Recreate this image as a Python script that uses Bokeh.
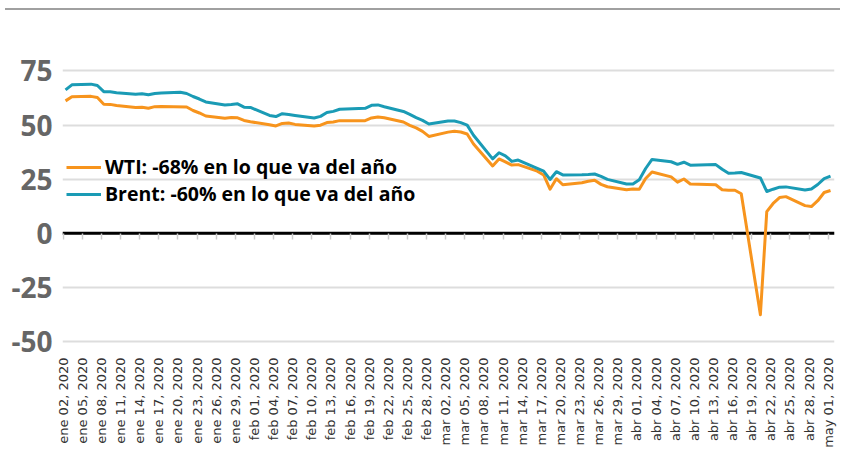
import math
import pandas as pd
from bokeh.plotting import figure
from bokeh.models import (FixedTicker, DatetimeAxis, Span, Range1d,
                          CustomJSTickFormatter, Div)
from bokeh.layouts import column
from bokeh.embed import file_html
from bokeh.resources import INLINE

# ---------------- data ----------------
wti_dates = [
    "2020-01-02", "2020-01-03", "2020-01-06", "2020-01-07", "2020-01-08", "2020-01-09", "2020-01-10",
    "2020-01-13", "2020-01-14", "2020-01-15", "2020-01-16", "2020-01-17", "2020-01-21", "2020-01-22",
    "2020-01-23", "2020-01-24", "2020-01-27", "2020-01-28", "2020-01-29", "2020-01-30", "2020-01-31",
    "2020-02-03", "2020-02-04", "2020-02-05", "2020-02-06", "2020-02-07", "2020-02-10", "2020-02-11",
    "2020-02-12", "2020-02-13", "2020-02-14", "2020-02-18", "2020-02-19", "2020-02-20", "2020-02-21",
    "2020-02-24", "2020-02-25", "2020-02-26", "2020-02-27", "2020-02-28", "2020-03-02", "2020-03-03",
    "2020-03-04", "2020-03-05", "2020-03-06", "2020-03-09", "2020-03-10", "2020-03-11", "2020-03-12",
    "2020-03-13", "2020-03-16", "2020-03-17", "2020-03-18", "2020-03-19", "2020-03-20", "2020-03-23",
    "2020-03-24", "2020-03-25", "2020-03-26", "2020-03-27", "2020-03-30", "2020-03-31", "2020-04-01",
    "2020-04-02", "2020-04-03", "2020-04-06", "2020-04-07", "2020-04-08", "2020-04-09", "2020-04-13",
    "2020-04-14", "2020-04-15", "2020-04-16", "2020-04-17", "2020-04-20", "2020-04-21", "2020-04-22",
    "2020-04-23", "2020-04-24", "2020-04-27", "2020-04-28", "2020-04-29", "2020-04-30", "2020-05-01",
]
wti_values = [
    61.18, 63.05, 63.27, 62.70, 59.61, 59.56, 59.04,
    58.08, 58.23, 57.81, 58.52, 58.54, 58.34, 56.74,
    55.59, 54.19, 53.14, 53.48, 53.33, 52.14, 51.56,
    50.11, 49.61, 50.75, 50.95, 50.32, 49.57, 49.94,
    51.17, 51.42, 52.05, 52.05, 53.29, 53.78, 53.38,
    51.43, 49.90, 48.73, 47.09, 44.76, 46.75, 47.18,
    46.78, 45.90, 41.28, 31.13, 34.36, 32.98, 31.50,
    31.73, 28.70, 26.95, 20.37, 25.22, 22.43, 23.36,
    24.01, 24.49, 22.60, 21.51, 20.09, 20.48, 20.31,
    25.32, 28.34, 26.08, 23.63, 25.09, 22.76, 22.41,
    20.11, 19.87, 19.87, 18.27, -37.63, 10.01, 13.78,
    16.50, 16.94, 12.78, 12.34, 15.06, 18.84, 19.78,
]

brent_dates = [
    "2020-01-02", "2020-01-03", "2020-01-06", "2020-01-07", "2020-01-08", "2020-01-09", "2020-01-10",
    "2020-01-13", "2020-01-14", "2020-01-15", "2020-01-16", "2020-01-17", "2020-01-20", "2020-01-21",
    "2020-01-22", "2020-01-23", "2020-01-24", "2020-01-27", "2020-01-28", "2020-01-29", "2020-01-30",
    "2020-01-31", "2020-02-03", "2020-02-04", "2020-02-05", "2020-02-06", "2020-02-07", "2020-02-10",
    "2020-02-11", "2020-02-12", "2020-02-13", "2020-02-14", "2020-02-17", "2020-02-18", "2020-02-19",
    "2020-02-20", "2020-02-21", "2020-02-24", "2020-02-25", "2020-02-26", "2020-02-27", "2020-02-28",
    "2020-03-02", "2020-03-03", "2020-03-04", "2020-03-05", "2020-03-06", "2020-03-09", "2020-03-10",
    "2020-03-11", "2020-03-12", "2020-03-13", "2020-03-16", "2020-03-17", "2020-03-18", "2020-03-19",
    "2020-03-20", "2020-03-23", "2020-03-24", "2020-03-25", "2020-03-26", "2020-03-27", "2020-03-30",
    "2020-03-31", "2020-04-01", "2020-04-02", "2020-04-03", "2020-04-06", "2020-04-07", "2020-04-08",
    "2020-04-09", "2020-04-13", "2020-04-14", "2020-04-15", "2020-04-16", "2020-04-17", "2020-04-20",
    "2020-04-21", "2020-04-22", "2020-04-23", "2020-04-24", "2020-04-27", "2020-04-28", "2020-04-29",
    "2020-04-30", "2020-05-01",
]
brent_values = [
    66.25, 68.60, 68.91, 68.27, 65.44, 65.37, 64.98,
    64.20, 64.49, 64.00, 64.62, 64.85, 65.20, 64.59,
    63.21, 62.04, 60.69, 59.32, 59.51, 59.81, 58.29,
    58.16, 54.45, 53.96, 55.28, 54.93, 54.47, 53.27,
    54.01, 55.79, 56.34, 57.32, 57.67, 57.75, 59.12,
    59.31, 58.50, 56.30, 54.95, 53.43, 52.18, 50.52,
    51.90, 51.86, 51.13, 49.99, 45.27, 34.36, 37.22,
    35.79, 33.22, 33.85, 30.05, 28.73, 24.88, 28.47,
    26.98, 27.03, 27.15, 27.39, 26.34, 24.93, 22.76,
    22.74, 24.74, 29.94, 34.11, 33.05, 31.87, 32.84,
    31.48, 31.74, 29.60, 27.69, 27.82, 28.08, 25.57,
    19.33, 20.37, 21.33, 21.44, 19.99, 20.46, 22.54,
    25.27, 26.44,
]

wti_label = "WTI: -68% en lo que va del año"
brent_label = "Brent: -60% en lo que va del año"

y_ticks = [-50, -25, 0, 25, 50, 75]
y_tick_labels = ["-50", "-25", "0", "25", "50", "75"]
month_abbr = {1: "ene", 2: "feb", 3: "mar", 4: "abr", 5: "may"}
tick_dates = pd.date_range("2020-01-02", "2020-05-01", freq="3D")
tick_labels = [f"{month_abbr[d.month]} {d.day:02d}, {d.year}" for d in tick_dates]

# ---------------- helpers ----------------
DAY_MS = 86400000.0
tick_ms = [float(int(d.timestamp() * 1000)) for d in tick_dates]
obs_shift = pd.Timedelta(hours=9)  # daily settlement timestamp offset
wti_x = pd.to_datetime(wti_dates) + obs_shift
brent_x = pd.to_datetime(brent_dates) + obs_shift

x_start = tick_ms[0] - 0.1 * DAY_MS
x_end = float(int(pd.Timestamp("2020-05-02").timestamp() * 1000))

ORANGE = "#F7941D"
TEAL = "#1A9BB5"

p = figure(width=842, height=440, x_axis_type="datetime",
           x_range=Range1d(x_start, x_end), y_range=Range1d(-52.3, 90),
           output_backend="svg", toolbar_location=None,
           min_border_left=62, min_border_right=8,
           min_border_top=28, min_border_bottom=103)
p.margin = (0, 0, 0, 0)
p.outline_line_color = None
p.background_fill_color = "white"
p.border_fill_color = "white"

# grid
p.xgrid.grid_line_color = None
p.ygrid.ticker = FixedTicker(ticks=y_ticks)
p.ygrid.grid_line_color = "#dddddd"
p.ygrid.grid_line_width = 2

# zero line
zero = Span(location=0, dimension="width", line_color="black", line_width=3,
            level="underlay")
p.add_layout(zero)

# lines
p.line(wti_x, wti_values, line_color=ORANGE, line_width=3, line_join="round",
       legend_label=wti_label)
p.line(brent_x, brent_values, line_color=TEAL, line_width=3, line_join="round",
       legend_label=brent_label)

# y axis
p.yaxis.ticker = FixedTicker(ticks=y_ticks)
p.yaxis.major_label_overrides = {t: s for t, s in zip(y_ticks, y_tick_labels)}
p.yaxis.axis_line_color = None
p.yaxis.major_tick_line_color = None
p.yaxis.minor_tick_line_color = None
p.yaxis.major_label_standoff = 4
p.yaxis.major_label_text_font = "Open Sans"
p.yaxis.major_label_text_font_style = "bold"
p.yaxis.major_label_text_font_size = "28px"
p.yaxis.major_label_text_color = "#666666"

# x axis (labels)
p.xaxis.ticker = FixedTicker(ticks=tick_ms)
p.xaxis.formatter = CustomJSTickFormatter(
    args=dict(tvals=tick_ms, tlabels=tick_labels),
    code="""
    let best = -1, bd = Infinity;
    for (let i = 0; i < tvals.length; i++) {
        const d = Math.abs(tvals[i] - tick);
        if (d < bd) { bd = d; best = i; }
    }
    return (best >= 0 && bd < 3600000) ? tlabels[best] : '';
    """)
p.xaxis.major_label_orientation = math.pi / 2
p.xaxis.axis_line_color = None
p.xaxis.major_tick_line_color = None
p.xaxis.minor_tick_line_color = None
p.xaxis.major_label_standoff = 5
p.xaxis.major_label_text_font = "DejaVu Sans"
p.xaxis.major_label_text_font_size = "13px"
p.xaxis.major_label_text_color = "#333333"

# tick marks on the zero line
zero_axis = DatetimeAxis(fixed_location=0, ticker=FixedTicker(ticks=tick_ms),
                         formatter=CustomJSTickFormatter(code="return '';"),
                         axis_line_color=None,
                         major_tick_line_color="#cccccc", major_tick_line_width=1.5,
                         major_tick_in=6, major_tick_out=0,
                         minor_tick_line_color=None,
                         major_label_text_font_size="1px")
p.add_layout(zero_axis, "above")

# legend
lg = p.legend[0]
lg.location = (4, 139)
lg.label_text_font = "Open Sans"
lg.label_text_font_style = "bold"
lg.label_text_font_size = "19.5px"
lg.label_text_color = "black"
lg.glyph_width = 35
lg.glyph_height = 20
lg.label_height = 20
lg.label_standoff = 4
lg.spacing = 0
lg.padding = 4
lg.margin = 0
lg.background_fill_alpha = 0
lg.border_line_color = None

top_rule = Div(text="", width=835, height=2, margin=(8, 0, 0, 5),
               styles={"background-color": "#a0a0a0"})

layout = column(top_rule, p, spacing=0)
open("out.html", "w").write(file_html(layout, INLINE))
